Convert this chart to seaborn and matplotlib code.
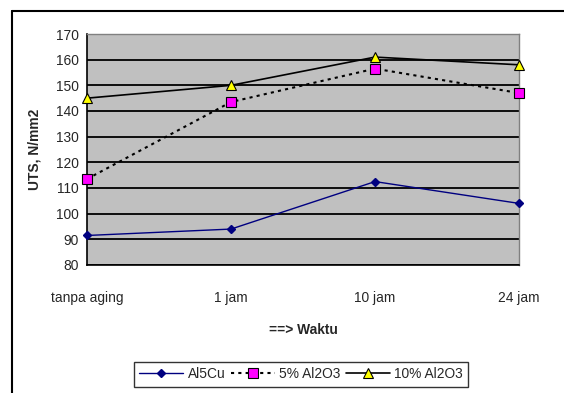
import matplotlib
matplotlib.use("Agg")
import matplotlib.pyplot as plt
import seaborn as sns
import pandas as pd

categories = ["tanpa aging", "1 jam", "10 jam", "24 jam"]
al5cu = [91.5, 94.0, 112.5, 104.0]
al2o3_5 = [113.5, 143.5, 156.5, 147.0]
al2o3_10 = [145.0, 150.0, 161.0, 158.0]
y_ticks = list(range(80, 171, 10))

sns.set_style("white")
plt.rcParams["font.family"] = ["Liberation Sans", "DejaVu Sans"]
FS = 9.9

fig = plt.figure(figsize=(5.64, 3.93), dpi=100)
# outer chart frame (left and top edges visible)
fig.add_artist(plt.Line2D([12 / 564, 12 / 564], [0, 1 - 11 / 393], color="black", lw=1.5))
fig.add_artist(plt.Line2D([12 / 564, 1], [1 - 11 / 393, 1 - 11 / 393], color="black", lw=1.5))

ax = fig.add_axes([87 / 564, 1 - 265 / 393, (519 - 87) / 564, (265 - 34) / 393])
ax.set_facecolor("#C0C0C0")

x = list(range(len(categories)))
df = pd.DataFrame({"x": x * 3,
                   "y": al5cu + al2o3_5 + al2o3_10,
                   "s": ["Al5Cu"] * 4 + ["5% Al2O3"] * 4 + ["10% Al2O3"] * 4})

styles = {
    "Al5Cu": dict(color="#000080", lw=1.0, ls="-", marker="D", ms=4.5,
                  mfc="#000080", mec="#000080"),
    "5% Al2O3": dict(color="black", lw=1.5, ls=(0, (1.5, 2)), marker="s", ms=6.5,
                     mfc="#FF00FF", mec="black", mew=0.8),
    "10% Al2O3": dict(color="black", lw=1.2, ls="-", marker="^", ms=7.5,
                      mfc="#FFFF00", mec="black", mew=0.8),
}
for name, st in styles.items():
    sub = df[df["s"] == name]
    sns.lineplot(data=sub, x="x", y="y", ax=ax, label=name, clip_on=False,
                 zorder=5, linestyle=st["ls"], color=st["color"], linewidth=st["lw"],
                 marker=st["marker"], markersize=st["ms"], markerfacecolor=st["mfc"],
                 markeredgecolor=st["mec"], markeredgewidth=st.get("mew", 1.0))

ax.set_xlim(0, 3)
ax.set_ylim(80, 170)
ax.set_yticks(y_ticks)
ax.set_yticklabels([str(v) for v in y_ticks], fontsize=FS)
ax.set_xticks(x)
ax.set_xticklabels(categories, fontsize=FS)
ax.tick_params(axis="x", direction="out", length=5, width=1, color="black", pad=14)
ax.tick_params(axis="y", direction="out", length=4, width=1, color="black", pad=2)
ax.grid(axis="y", color="black", lw=1.3)
ax.set_axisbelow(True)
for side in ("left", "bottom"):
    ax.spines[side].set_color("black")
    ax.spines[side].set_linewidth(1.2)
for side in ("top", "right"):
    ax.spines[side].set_color("#808080")
    ax.spines[side].set_linewidth(1.0)

ax.set_ylabel("UTS, N/mm2", fontsize=FS, fontweight="bold", labelpad=10)
ax.set_xlabel("==> Waktu", fontsize=FS, fontweight="bold", labelpad=13)

ax.legend(loc="center", bbox_to_anchor=(301 / 564, 1 - 374 / 393),
          bbox_transform=fig.transFigure, ncol=3, fontsize=FS, frameon=True,
          fancybox=False, edgecolor="black", handlelength=3.2, handletextpad=0.3,
          columnspacing=0.4, borderpad=0.4).get_frame().set_linewidth(1.0)

fig.savefig("out.png", dpi=100)
